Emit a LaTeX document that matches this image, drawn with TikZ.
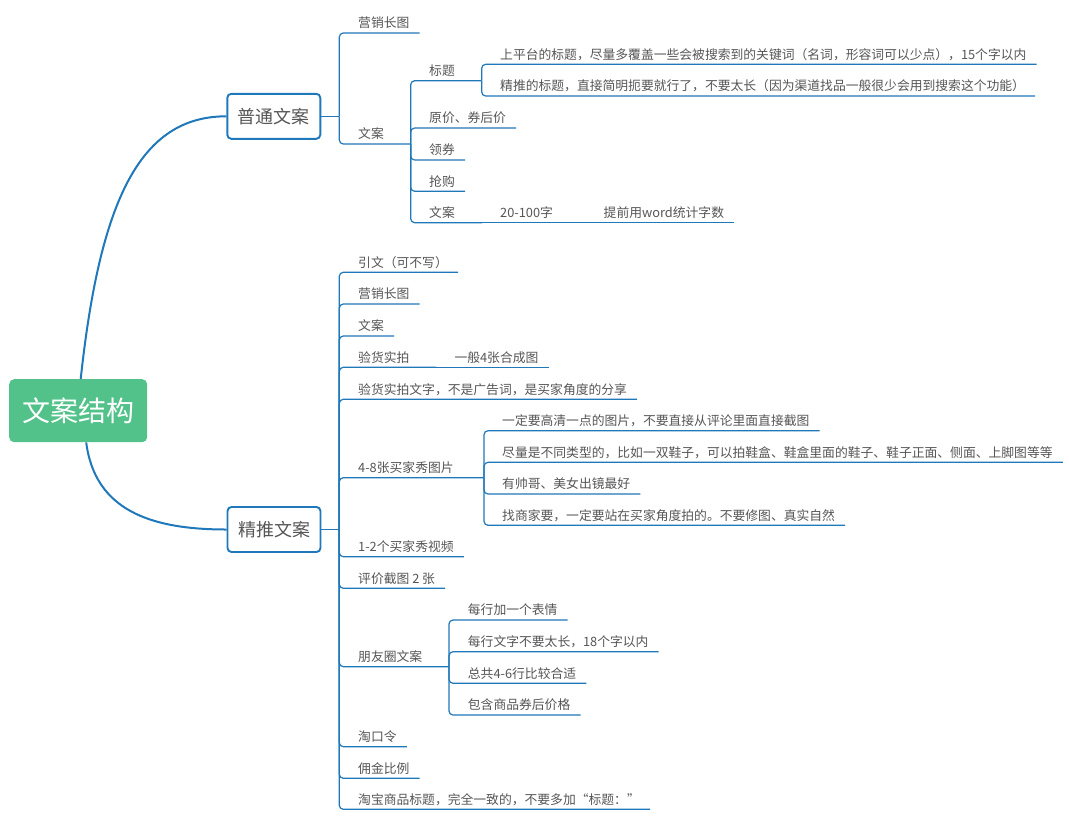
\documentclass[tikz,border=0pt]{standalone}
\usepackage{fontspec}
\setmainfont{Noto Sans CJK SC}
\definecolor{lnblue}{HTML}{1F78B9}
\definecolor{txtgray}{HTML}{555555}
\definecolor{rootgreen}{HTML}{52C28A}
\begin{document}
\begin{tikzpicture}[x=1pt,y=-1pt,
  ln/.style={draw=lnblue,line width=1.2pt,rounded corners=4pt},
  cv/.style={draw=lnblue,line width=2pt},
  tp/.style={anchor=south west,inner sep=0pt,text depth=5.1pt,text=txtgray,font=\fontsize{12.8}{12.8}\selectfont},
  mainbox/.style={draw=lnblue,line width=1.9pt,fill=white,rounded corners=4pt,minimum width=93pt,minimum height=45pt,text=txtgray,font=\fontsize{18}{18}\selectfont},
  rootbox/.style={fill=rootgreen,rounded corners=5pt,minimum width=138pt,minimum height=63pt,text=white,font=\fontsize{28}{28}\selectfont}]
 \useasboundingbox (0,0) rectangle (1069,815);
 \node[rootbox] (root) at (78.2,410.7) {文案结构};
 \node[mainbox] (pt) at (273.8,116.3) {普通文案};
 \node[mainbox] (jt) at (274,529.5) {精推文案};
 \draw[cv] ([xshift=2.5pt]root.north) .. controls (100,200) and (140,116.3) .. (pt.west);
 \draw[cv] ([xshift=8pt]root.south) .. controls (95,510) and (150,529.5) .. (jt.west);
 \coordinate (pt-j) at (339.3,116.3);
 \coordinate (jt-j) at (339.3,529.5);
 \draw[ln] (pt.east) -- (pt-j);
 \draw[ln] (jt.east) -- (jt-j);
 \node[tp] (pt-yx) at (358,33) {营销长图};
 \node[tp] (pt-wa) at (358,144) {文案};
 \coordinate (pt-wa-j) at (410.7,144);
 \draw[ln] (pt-j) |- ([xshift=10pt]pt-yx.south east);
 \draw[ln] (pt-j) |- (pt-wa-j);
 \node[tp] (bt) at (429,80.7) {标题};
 \coordinate (bt-j) at (481.7,80.7);
 \node[tp] (yj) at (429,128) {原价、券后价};
 \node[tp] (lq) at (429,160) {领券};
 \node[tp] (qg) at (429,191.3) {抢购};
 \node[tp] (wa3) at (429,222.7) {文案};
 \coordinate (wa3-j) at (482,222.7);
 \draw[ln] (pt-wa-j) |- (bt-j);
 \draw[ln] (pt-wa-j) |- ([xshift=10pt]yj.south east);
 \draw[ln] (pt-wa-j) |- ([xshift=10pt]lq.south east);
 \draw[ln] (pt-wa-j) |- ([xshift=10pt]qg.south east);
 \draw[ln] (pt-wa-j) |- (wa3-j);
 \node[tp] (bt1) at (500,64.3) {上平台的标题，尽量多覆盖一些会被搜索到的关键词（名词，形容词可以少点），15个字以内};
 \node[tp] (bt2) at (500,96) {精推的标题，直接简明扼要就行了，不要太长（因为渠道找品一般很少会用到搜索这个功能）};
 \draw[ln] (bt-j) |- ([xshift=10pt]bt1.south east);
 \draw[ln] (bt-j) |- ([xshift=10pt]bt2.south east);
 \node[tp] (zs) at (500,222.7) {20-100字};
 \coordinate (zs-j) at (585.5,222.7);
 \node[tp] (tq) at (603.5,222.7) {提前用word统计字数};
 \draw[ln] (wa3-j) -- (zs-j);
 \draw[ln] (zs-j) -- ([xshift=10pt]tq.south east);
 \node[tp] (yw) at (358,272.3) {引文（可不写）};
 \node[tp] (jt-yx) at (358,304) {营销长图};
 \node[tp] (jt-wa) at (358,336) {文案};
 \node[tp] (yh) at (358,367.3) {验货实拍};
 \coordinate (yh-j) at (436.3,367.3);
 \node[tp] (yb) at (454.3,367.3) {一般4张合成图};
 \node[tp] (yhwz) at (358,399.3) {验货实拍文字，不是广告词，是买家角度的分享};
 \node[tp] (mjx) at (358,477.7) {4-8张买家秀图片};
 \coordinate (mjx-j) at (484,477.7);
 \node[tp] (sp) at (358,556.7) {1-2个买家秀视频};
 \node[tp] (pj) at (358,588.3) {评价截图 2 张};
 \node[tp] (pyq) at (358,666.7) {朋友圈文案};
 \coordinate (pyq-j) at (449,666.7);
 \node[tp] (tkl) at (358,746.7) {淘口令};
 \node[tp] (yj2) at (358,778.3) {佣金比例};
 \node[tp] (tb) at (358,809.3) {淘宝商品标题，完全一致的，不要多加“标题：”};
 \draw[ln] (jt-j) |- ([xshift=10pt]yw.south east);
 \draw[ln] (jt-j) |- ([xshift=10pt]jt-yx.south east);
 \draw[ln] (jt-j) |- ([xshift=10pt]jt-wa.south east);
 \draw[ln] (jt-j) |- (yh-j);
 \draw[ln] (yh-j) -- ([xshift=10pt]yb.south east);
 \draw[ln] (jt-j) |- ([xshift=10pt]yhwz.south east);
 \draw[ln] (jt-j) |- (mjx-j);
 \draw[ln] (jt-j) |- ([xshift=10pt]sp.south east);
 \draw[ln] (jt-j) |- ([xshift=10pt]pj.south east);
 \draw[ln] (jt-j) |- (pyq-j);
 \draw[ln] (jt-j) |- ([xshift=10pt]tkl.south east);
 \draw[ln] (jt-j) |- ([xshift=10pt]yj2.south east);
 \draw[ln] (jt-j) |- ([xshift=10pt]tb.south east);
 \node[tp] (m1) at (502,430.7) {一定要高清一点的图片，不要直接从评论里面直接截图};
 \node[tp] (m2) at (502,462.3) {尽量是不同类型的，比如一双鞋子，可以拍鞋盒、鞋盒里面的鞋子、鞋子正面、侧面、上脚图等等};
 \node[tp] (m3) at (502,494) {有帅哥、美女出镜最好};
 \node[tp] (m4) at (502,525.3) {找商家要，一定要站在买家角度拍的。不要修图、真实自然};
 \draw[ln] (mjx-j) |- ([xshift=10pt]m1.south east);
 \draw[ln] (mjx-j) |- ([xshift=10pt]m2.south east);
 \draw[ln] (mjx-j) |- ([xshift=10pt]m3.south east);
 \draw[ln] (mjx-j) |- ([xshift=10pt]m4.south east);
 \node[tp] (p1) at (467.7,620) {每行加一个表情};
 \node[tp] (p2) at (467.7,651.7) {每行文字不要太长，18个字以内};
 \node[tp] (p3) at (467.7,683.3) {总共4-6行比较合适};
 \node[tp] (p4) at (467.7,715) {包含商品券后价格};
 \draw[ln] (pyq-j) |- ([xshift=10pt]p1.south east);
 \draw[ln] (pyq-j) |- ([xshift=10pt]p2.south east);
 \draw[ln] (pyq-j) |- ([xshift=10pt]p3.south east);
 \draw[ln] (pyq-j) |- ([xshift=10pt]p4.south east);
\end{tikzpicture}
\end{document}
